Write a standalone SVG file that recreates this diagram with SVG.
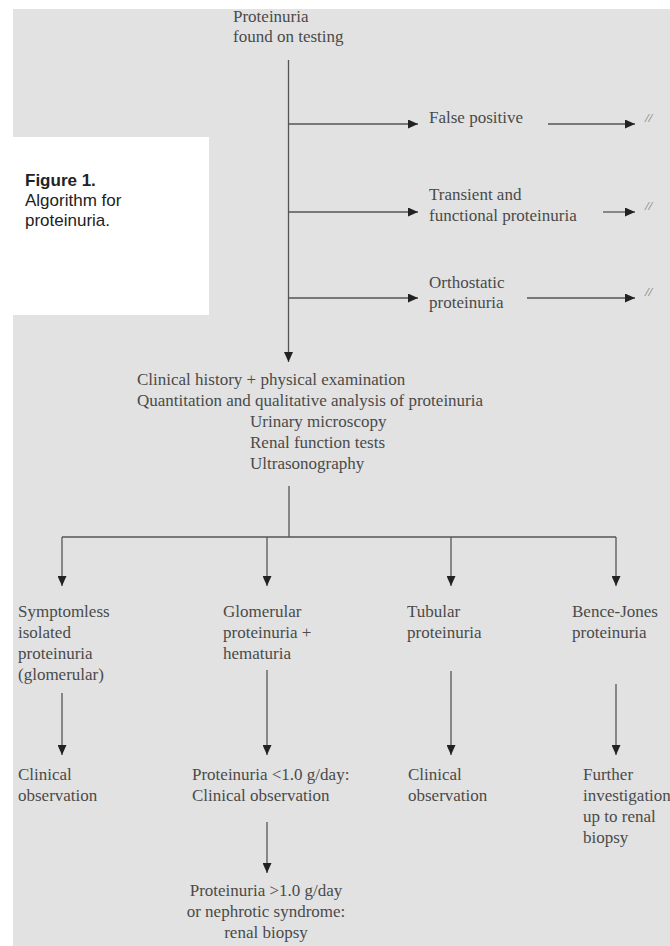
<svg xmlns="http://www.w3.org/2000/svg" width="670" height="946" viewBox="0 0 670 946">
<style>
.t{font-family:"Liberation Serif","Times New Roman",serif;font-size:17px;fill:#4a4a4a}
.m{text-anchor:middle}
.cap{font-family:"Liberation Sans",Arial,sans-serif;font-size:17px;fill:#222}
.ln{fill:none;stroke:#555;stroke-width:1.3}
.sl{font-family:"Liberation Serif","Times New Roman",serif;font-size:13px;font-style:italic;fill:#777}
</style>
<defs>
<marker id="ah" markerUnits="userSpaceOnUse" markerWidth="11" markerHeight="9" refX="10" refY="4.5" orient="auto">
<path d="M0,0 L10,4.5 L0,9 z" fill="#222"/>
</marker>
</defs>
<rect x="13" y="9" width="657" height="937" fill="#e2e2e2"/>
<g id="caption">
<rect x="13" y="137" width="196" height="178" fill="#ffffff"/>
<text class="cap" x="25" y="186" font-weight="bold">Figure 1.</text>
<text class="cap" x="25" y="206">Algorithm for</text>
<text class="cap" x="25" y="226">proteinuria.</text>
</g>
<g id="connectors">
<path class="ln" d="M288.5,60 V362" marker-end="url(#ah)"/>
<path class="ln" d="M288.5,124 H418" marker-end="url(#ah)"/>
<path class="ln" d="M288.5,212 H418" marker-end="url(#ah)"/>
<path class="ln" d="M288.5,298 H418" marker-end="url(#ah)"/>
<path class="ln" d="M548,124 H635" marker-end="url(#ah)"/>
<path class="ln" d="M603,212 H635" marker-end="url(#ah)"/>
<path class="ln" d="M527,298 H635" marker-end="url(#ah)"/>
<path class="ln" d="M289,486 V537 M62,537 H616"/>
<path class="ln" d="M62,537 V586" marker-end="url(#ah)"/>
<path class="ln" d="M267,537 V586" marker-end="url(#ah)"/>
<path class="ln" d="M451,537 V586" marker-end="url(#ah)"/>
<path class="ln" d="M616,537 V586" marker-end="url(#ah)"/>
<path class="ln" d="M62,693 V755" marker-end="url(#ah)"/>
<path class="ln" d="M267,670 V755" marker-end="url(#ah)"/>
<path class="ln" d="M451,671 V755" marker-end="url(#ah)"/>
<path class="ln" d="M616,684 V755" marker-end="url(#ah)"/>
<path class="ln" d="M267,822 V873" marker-end="url(#ah)"/>
<text class="sl" x="645" y="122">//</text>
<text class="sl" x="645" y="210">//</text>
<text class="sl" x="645" y="296">//</text>
</g>
<g id="n-start">
<text class="t" x="233" y="22">Proteinuria</text>
<text class="t" x="233" y="42">found on testing</text>
</g>
<g id="n-false"><text class="t" x="429" y="123">False positive</text></g>
<g id="n-transient">
<text class="t" x="429" y="200">Transient and</text>
<text class="t" x="429" y="221">functional proteinuria</text>
</g>
<g id="n-ortho">
<text class="t" x="429" y="288">Orthostatic</text>
<text class="t" x="429" y="308">proteinuria</text>
</g>
<g id="n-workup">
<text class="t" x="137" y="385">Clinical history + physical examination</text>
<text class="t" x="137" y="406">Quantitation and qualitative analysis of proteinuria</text>
<text class="t" x="250" y="427">Urinary microscopy</text>
<text class="t" x="250" y="448">Renal function tests</text>
<text class="t" x="250" y="469">Ultrasonography</text>
</g>
<g id="n-symptomless">
<text class="t" x="18" y="617">Symptomless</text>
<text class="t" x="18" y="638">isolated</text>
<text class="t" x="18" y="659">proteinuria</text>
<text class="t" x="18" y="680">(glomerular)</text>
</g>
<g id="n-glomerular">
<text class="t" x="223" y="617">Glomerular</text>
<text class="t" x="223" y="638">proteinuria +</text>
<text class="t" x="223" y="659">hematuria</text>
</g>
<g id="n-tubular">
<text class="t" x="407" y="617">Tubular</text>
<text class="t" x="407" y="638">proteinuria</text>
</g>
<g id="n-bence">
<text class="t" x="572" y="617">Bence-Jones</text>
<text class="t" x="572" y="638">proteinuria</text>
</g>
<g id="n-obs1">
<text class="t" x="18" y="780">Clinical</text>
<text class="t" x="18" y="801">observation</text>
</g>
<g id="n-lt1">
<text class="t" x="192" y="780">Proteinuria &lt;1.0 g/day:</text>
<text class="t" x="192" y="801">Clinical observation</text>
</g>
<g id="n-obs3">
<text class="t" x="408" y="780">Clinical</text>
<text class="t" x="408" y="801">observation</text>
</g>
<g id="n-further">
<text class="t" x="583" y="780">Further</text>
<text class="t" x="583" y="801">investigation</text>
<text class="t" x="583" y="822"> up to renal</text>
<text class="t" x="583" y="843">biopsy</text>
</g>
<g id="n-gt1">
<text class="t m" x="266" y="896">Proteinuria &gt;1.0 g/day</text>
<text class="t m" x="266" y="917">or nephrotic syndrome:</text>
<text class="t m" x="266" y="938">renal biopsy</text>
</g>
</svg>
